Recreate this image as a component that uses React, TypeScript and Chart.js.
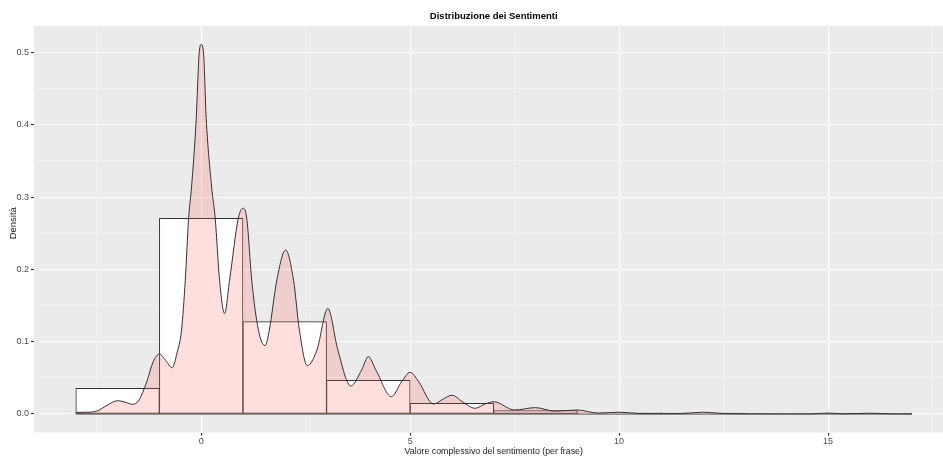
import React, { useEffect, useRef } from 'react';
import { Chart, registerables } from 'chart.js';

Chart.register(...registerables);

// Histogram (binwidth 2): bin centres and density heights
const binCenters = [-2, 0, 2, 4, 6, 8, 10, 12, 14, 16];
const binDensity = [0.0355, 0.2707, 0.1277, 0.0466, 0.0148, 0.0046, 0.0015, 0.0012, 0.0003, 0.0005];
const binEdges = [-3, 17];

// Kernel density curve
const densityX = [
  -3.0, -2.75, -2.5, -2.25, -2.0, -1.8, -1.65, -1.5, -1.3, -1.15, -1.0, -0.85, -0.69, -0.58, -0.47, -0.38,
  -0.3, -0.23, -0.12, -0.05, 0.0, 0.06, 0.12, 0.25, 0.335, 0.44, 0.56, 0.68, 0.89, 1.0, 1.09, 1.21, 1.37, 1.53,
  1.63, 1.81, 2.02, 2.21, 2.35, 2.54, 2.77, 3.03, 3.27, 3.58, 3.84, 4.0, 4.18, 4.55, 4.8, 5.0,
  5.2, 5.56, 5.8, 6.0, 6.25, 6.55, 6.8, 7.0, 7.5, 8.0, 8.45, 9.0, 9.5, 10.0, 10.5, 11.0,
  11.5, 12.0, 12.5, 13.0, 14.0, 14.6, 15.0, 15.4, 16.0, 16.5, 17.0,
];
const densityY = [
  0.0022, 0.0024, 0.004, 0.012, 0.0184, 0.016, 0.0134, 0.018, 0.045, 0.072, 0.083, 0.074, 0.064, 0.084, 0.116, 0.185,
  0.271, 0.314, 0.407, 0.497, 0.511, 0.496, 0.41, 0.314, 0.271, 0.185, 0.139, 0.185, 0.271, 0.2845, 0.271, 0.185, 0.116, 0.0945,
  0.116, 0.185, 0.2268, 0.185, 0.116, 0.0668, 0.0885, 0.146, 0.0885, 0.0387, 0.061, 0.0793, 0.061, 0.024, 0.045, 0.0576,
  0.045, 0.0138, 0.021, 0.026, 0.017, 0.0079, 0.014, 0.017, 0.0055, 0.0088, 0.004, 0.0055, 0.0012, 0.0025, 0.0006, 0.0005,
  0.0006, 0.0025, 0.0006, 0.0004, 0.0003, 0.0003, 0.0012, 0.0003, 0.001, 0.0003, 0.0002,
];

const xMajorTicks = [0, 5, 10, 15];
const xMinorTicks = [-2.5, 2.5, 7.5, 12.5, 17.5];
const yMajorTicks = [0, 0.1, 0.2, 0.3, 0.4, 0.5];
const yMinorTicks = [0.05, 0.15, 0.25, 0.35, 0.45];

const titleText = 'Distribuzione dei Sentimenti';
const xTitle = 'Valore complessivo del sentimento (per frase)';
const yTitle = 'Densità';

const X_MIN = -4;
const X_MAX = 17.75;
const X_FULL_MAX = 18;
const Y_MIN = -0.0256;
const Y_MAX = 0.5366;

const FONT = "'Liberation Sans', Arial, Helvetica, sans-serif";

const isMajorX = (v: number) => xMajorTicks.some((m) => Math.abs(m - v) < 1e-6);
const isMajorY = (v: number) => yMajorTicks.some((m) => Math.abs(m - v) < 1e-6);

export default function App() {
  const canvasRef = useRef<HTMLCanvasElement | null>(null);

  useEffect(() => {
    if (!canvasRef.current) return;

    const panelPlugin = {
      id: 'panelBg',
      beforeDraw(chart: any) {
        const { ctx, chartArea } = chart;
        ctx.save();
        ctx.fillStyle = '#FFFFFF';
        ctx.fillRect(0, 0, chart.width, chart.height);
        ctx.fillStyle = '#EBEBEB';
        ctx.fillRect(chartArea.left, chartArea.top, chartArea.right - chartArea.left, chartArea.bottom - chartArea.top);
        ctx.restore();
      },
    };

    const titlesPlugin = {
      id: 'ggTitles',
      afterDraw(chart: any) {
        const { ctx, chartArea } = chart;
        const xs = chart.scales.x;
        const cx = (xs.getPixelForValue(X_MIN) + xs.getPixelForValue(X_FULL_MAX)) / 2;
        ctx.save();
        ctx.fillStyle = '#000000';
        ctx.textAlign = 'center';
        ctx.textBaseline = 'middle';
        ctx.font = `bold 9.5px ${FONT}`;
        ctx.fillText(titleText, cx, 16);
        ctx.fillStyle = '#1A1A1A';
        ctx.font = `8.8px ${FONT}`;
        ctx.fillText(xTitle, cx, 452);
        ctx.font = `9.5px ${FONT}`;
        ctx.translate(13, (chartArea.top + chartArea.bottom) / 2 - 6);
        ctx.rotate(-Math.PI / 2);
        ctx.fillText(yTitle, 0, 0);
        ctx.restore();
      },
    };

    const chart = new Chart(canvasRef.current, {
      type: 'bar',
      data: {
        datasets: [
          {
            type: 'line',
            label: 'base',
            data: binEdges.map((x) => ({ x, y: 0 })),
            borderColor: '#333333',
            borderWidth: 1,
            pointRadius: 0,
            fill: false,
            order: 2,
          },
          {
            type: 'bar',
            label: 'hist',
            data: binCenters.map((x, i) => ({ x, y: binDensity[i] })),
            backgroundColor: '#FFFFFF',
            borderColor: '#333333',
            borderWidth: 1,
            borderSkipped: false,
            barPercentage: 1,
            categoryPercentage: 1,
            grouped: false,
            order: 1,
          },
          {
            type: 'line',
            label: 'density',
            data: densityX.map((x, i) => ({ x, y: densityY[i] })),
            borderColor: '#333333',
            borderWidth: 1,
            backgroundColor: 'rgba(255, 90, 90, 0.2)',
            fill: 'origin',
            pointRadius: 0,
            cubicInterpolationMode: 'monotone',
            order: 0,
          },
        ] as any,
      },
      options: {
        animation: false,
        responsive: true,
        maintainAspectRatio: false,
        devicePixelRatio: 1,
        layout: { padding: { top: 26, left: 0, right: 0, bottom: 0 } },
        plugins: {
          legend: { display: false },
          tooltip: { enabled: false },
          title: { display: false },
        },
        scales: {
          x: {
            type: 'linear',
            min: X_MIN,
            max: X_MAX,
            offset: false,
            afterBuildTicks: (s: any) => {
              s.ticks = [...xMajorTicks, ...xMinorTicks].sort((a, b) => a - b).map((v) => ({ value: v }));
            },
            afterFit: (s: any) => {
              s.height = 23.5;
            },
            ticks: {
              autoSkip: false,
              maxRotation: 0,
              padding: 1,
              color: '#4D4D4D',
              font: { family: FONT, size: 9 },
              callback: (v: any) => (isMajorX(Number(v)) ? String(v) : ''),
            },
            grid: {
              offset: false,
              drawTicks: true,
              tickLength: 3,
              color: (c: any) => (c.tick && isMajorX(c.tick.value) ? '#FFFFFF' : 'rgba(255,255,255,0.6)'),
              lineWidth: (c: any) => (c.tick && isMajorX(c.tick.value) ? 1.1 : 0.6),
              tickColor: (c: any) => (c.tick && isMajorX(c.tick.value) ? '#333333' : 'rgba(0,0,0,0)'),
            },
            border: { display: false },
          },
          y: {
            type: 'linear',
            min: Y_MIN,
            max: Y_MAX,
            afterBuildTicks: (s: any) => {
              s.ticks = [...yMajorTicks, ...yMinorTicks].sort((a, b) => a - b).map((v) => ({ value: v }));
            },
            afterFit: (s: any) => {
              s.width = 34;
            },
            ticks: {
              autoSkip: false,
              padding: 2,
              color: '#4D4D4D',
              font: { family: FONT, size: 9 },
              callback: (v: any) => (isMajorY(Number(v)) ? Number(v).toFixed(1) : ''),
            },
            grid: {
              drawTicks: true,
              tickLength: 3,
              color: (c: any) => (c.tick && isMajorY(c.tick.value) ? '#FFFFFF' : 'rgba(255,255,255,0.6)'),
              lineWidth: (c: any) => (c.tick && isMajorY(c.tick.value) ? 1.1 : 0.6),
              tickColor: (c: any) => (c.tick && isMajorY(c.tick.value) ? '#333333' : 'rgba(0,0,0,0)'),
            },
            border: { display: false },
          },
        },
      } as any,
      plugins: [panelPlugin, titlesPlugin],
    });

    return () => {
      chart.destroy();
    };
  }, []);

  return (
    <div style={{ position: 'fixed', left: 0, top: 0, width: 943, height: 456, background: '#FFFFFF' }}>
      <canvas ref={canvasRef} />
    </div>
  );
}
